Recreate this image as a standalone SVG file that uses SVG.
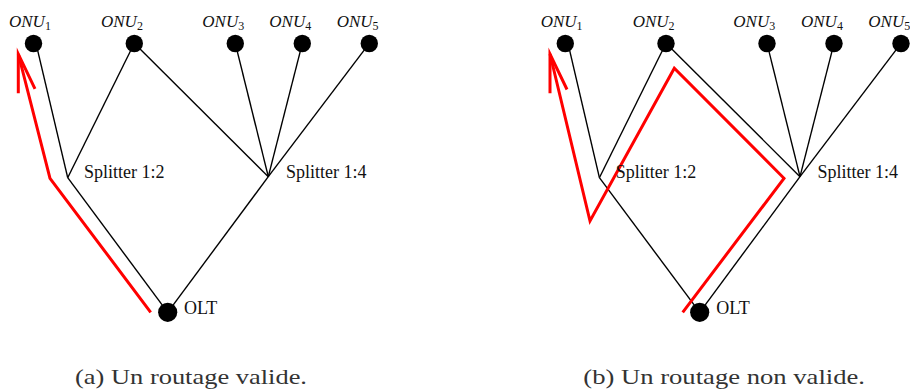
<svg xmlns="http://www.w3.org/2000/svg" width="910" height="392" viewBox="0 0 910 392">
<style>
.edge{stroke:#000;stroke-width:1.4;fill:none}
.route{stroke:#ff0000;stroke-width:3;fill:none;stroke-linejoin:miter;stroke-miterlimit:10}
.dot{fill:#000}
.lbl{font-family:"Liberation Serif","Times New Roman",serif;font-size:18px;fill:#111}
.onu{font-family:"Liberation Serif","Times New Roman",serif;font-size:17px;font-style:italic;fill:#111}
.sub{font-size:12px;font-style:normal}
.cap{font-family:"Liberation Serif","Times New Roman",serif;font-size:21px;fill:#333}
</style>
<g id="connectors">
  <!-- left diagram -->
  <line class="edge" x1="36" y1="43.3" x2="67.7" y2="177.7"/>
  <line class="edge" x1="134.3" y1="43.3" x2="67.7" y2="177.7"/>
  <line class="edge" x1="67.7" y1="177.7" x2="167.7" y2="312.3"/>
  <line class="edge" x1="134.3" y1="43.3" x2="268.3" y2="176.7"/>
  <line class="edge" x1="235.3" y1="43.3" x2="268.3" y2="176.7"/>
  <line class="edge" x1="302.3" y1="43.3" x2="268.3" y2="176.7"/>
  <line class="edge" x1="369.3" y1="43.3" x2="268.3" y2="176.7"/>
  <line class="edge" x1="268.3" y1="176.7" x2="167.7" y2="312.3"/>
  <!-- right diagram -->
  <line class="edge" x1="568" y1="43.3" x2="599.4" y2="177.7"/>
  <line class="edge" x1="666" y1="43.3" x2="599.4" y2="177.7"/>
  <line class="edge" x1="599.4" y1="177.7" x2="699.7" y2="312.3"/>
  <line class="edge" x1="666" y1="43.3" x2="800" y2="176.7"/>
  <line class="edge" x1="767" y1="43.3" x2="800" y2="176.7"/>
  <line class="edge" x1="834" y1="43.3" x2="800" y2="176.7"/>
  <line class="edge" x1="901" y1="43.3" x2="800" y2="176.7"/>
  <line class="edge" x1="800" y1="176.7" x2="699.7" y2="312.3"/>
  <!-- routes -->
  <polyline id="route-a" class="route" points="150.7,312.3 50,178.3 18.3,54"/>
  <polyline class="route" points="18.3,93.3 18.3,54 35,88.8"/>
  <polyline id="route-b" class="route" points="682.7,312.3 784,178.3 674.3,68.3 590,221 550,54"/>
  <polyline class="route" points="550,93.3 550,54 567,89.5"/>
</g>
<g id="onu1-a"><circle class="dot" cx="33.5" cy="43.5" r="8.7"/><text class="onu" x="9" y="26.7">ONU<tspan class="sub" dy="3">1</tspan></text></g>
<g id="onu2-a"><circle class="dot" cx="134.3" cy="43.5" r="8.7"/><text class="onu" x="101" y="26.7">ONU<tspan class="sub" dy="3">2</tspan></text></g>
<g id="onu3-a"><circle class="dot" cx="235.3" cy="43.5" r="8.7"/><text class="onu" x="202.3" y="26.7">ONU<tspan class="sub" dy="3">3</tspan></text></g>
<g id="onu4-a"><circle class="dot" cx="302.3" cy="43.5" r="8.7"/><text class="onu" x="269.3" y="26.7">ONU<tspan class="sub" dy="3">4</tspan></text></g>
<g id="onu5-a"><circle class="dot" cx="369.3" cy="43.5" r="8.7"/><text class="onu" x="336.7" y="26.7">ONU<tspan class="sub" dy="3">5</tspan></text></g>
<g id="splitter12-a"><text class="lbl" x="84" y="178">Splitter 1:2</text></g>
<g id="splitter14-a"><text class="lbl" x="286" y="178">Splitter 1:4</text></g>
<g id="olt-a"><circle class="dot" cx="167.7" cy="312.3" r="9.6"/><text class="lbl" x="184" y="313.5">OLT</text></g>

<g id="onu1-b"><circle class="dot" cx="565.3" cy="43.5" r="8.7"/><text class="onu" x="540.7" y="26.7">ONU<tspan class="sub" dy="3">1</tspan></text></g>
<g id="onu2-b"><circle class="dot" cx="666" cy="43.5" r="8.7"/><text class="onu" x="632.7" y="26.7">ONU<tspan class="sub" dy="3">2</tspan></text></g>
<g id="onu3-b"><circle class="dot" cx="767" cy="43.5" r="8.7"/><text class="onu" x="733.3" y="26.7">ONU<tspan class="sub" dy="3">3</tspan></text></g>
<g id="onu4-b"><circle class="dot" cx="834" cy="43.5" r="8.7"/><text class="onu" x="801" y="26.7">ONU<tspan class="sub" dy="3">4</tspan></text></g>
<g id="onu5-b"><circle class="dot" cx="901" cy="43.5" r="8.7"/><text class="onu" x="868.3" y="26.7">ONU<tspan class="sub" dy="3">5</tspan></text></g>
<g id="splitter12-b"><text class="lbl" x="615.7" y="178">Splitter 1:2</text></g>
<g id="splitter14-b"><text class="lbl" x="817.5" y="178">Splitter 1:4</text></g>
<g id="olt-b"><circle class="dot" cx="699.7" cy="312.3" r="9.6"/><text class="lbl" x="716.3" y="313.5">OLT</text></g>

<g id="captions">
  <text class="cap" x="75" y="384" textLength="232" lengthAdjust="spacingAndGlyphs">(a) Un routage valide.</text>
  <text class="cap" x="583.3" y="384" textLength="281.7" lengthAdjust="spacingAndGlyphs">(b) Un routage non valide.</text>
</g>
</svg>
